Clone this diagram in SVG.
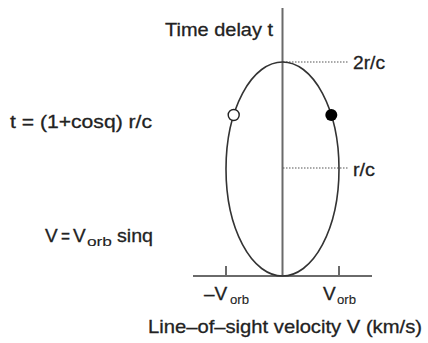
<svg xmlns="http://www.w3.org/2000/svg" width="428" height="343" viewBox="0 0 428 343">
<style>
text{font-family:"Liberation Sans",Arial,sans-serif;font-size:19px;fill:#222;stroke:#222;stroke-width:0.3}
.sub{font-size:13px;stroke-width:0.1}
.ax{stroke:#6a6a6a;stroke-width:2;fill:none}
.dot{stroke:#555;stroke-width:1.2;stroke-dasharray:1.5 1.5;fill:none}
.orbit{stroke:#333;stroke-width:1.6;fill:none}
</style>
<rect width="428" height="343" fill="#fff"/>
<g id="connectors">
<line class="ax" x1="282.5" y1="8" x2="282.5" y2="276"/>
<line class="ax" x1="193" y1="276" x2="372" y2="276"/>
<line class="ax" x1="226" y1="266" x2="226" y2="276"/>
<line class="ax" x1="339" y1="266" x2="339" y2="276"/>
<line class="dot" x1="283" y1="62" x2="348" y2="62"/>
<line class="dot" x1="283" y1="168" x2="348" y2="168"/>
</g>
<g id="orbit">
<ellipse class="orbit" cx="282.5" cy="169" rx="56.5" ry="107"/>
</g>
<g id="open-star">
<circle cx="233.7" cy="115" r="5.5" fill="#fff" stroke="#222" stroke-width="1.4"/>
</g>
<g id="filled-star">
<circle cx="331.3" cy="115" r="6" fill="#000"/>
</g>
<g id="labels">
<text x="165" y="36" textLength="108" lengthAdjust="spacingAndGlyphs">Time delay t</text>
<text x="353" y="69" textLength="32" lengthAdjust="spacingAndGlyphs">2r/c</text>
<text x="353" y="176" textLength="22" lengthAdjust="spacingAndGlyphs">r/c</text>
<text x="10" y="128" textLength="142" lengthAdjust="spacingAndGlyphs">t = (1+cosq) r/c</text>
<text y="242"><tspan x="45">V</tspan><tspan x="61" textLength="9" lengthAdjust="spacingAndGlyphs">=</tspan><tspan x="73">V</tspan><tspan class="sub" x="87" y="246" textLength="25" lengthAdjust="spacingAndGlyphs">orb</tspan><tspan x="117" y="242" textLength="36" lengthAdjust="spacingAndGlyphs">sinq</tspan></text>
<text y="300"><tspan x="204">–V</tspan><tspan class="sub" x="230" y="304" textLength="19" lengthAdjust="spacingAndGlyphs">orb</tspan></text>
<text y="300"><tspan x="323">V</tspan><tspan class="sub" x="337" y="304" textLength="19" lengthAdjust="spacingAndGlyphs">orb</tspan></text>
<text x="148" y="333" textLength="274" lengthAdjust="spacingAndGlyphs">Line–of–sight velocity V (km/s)</text>
</g>
</svg>
